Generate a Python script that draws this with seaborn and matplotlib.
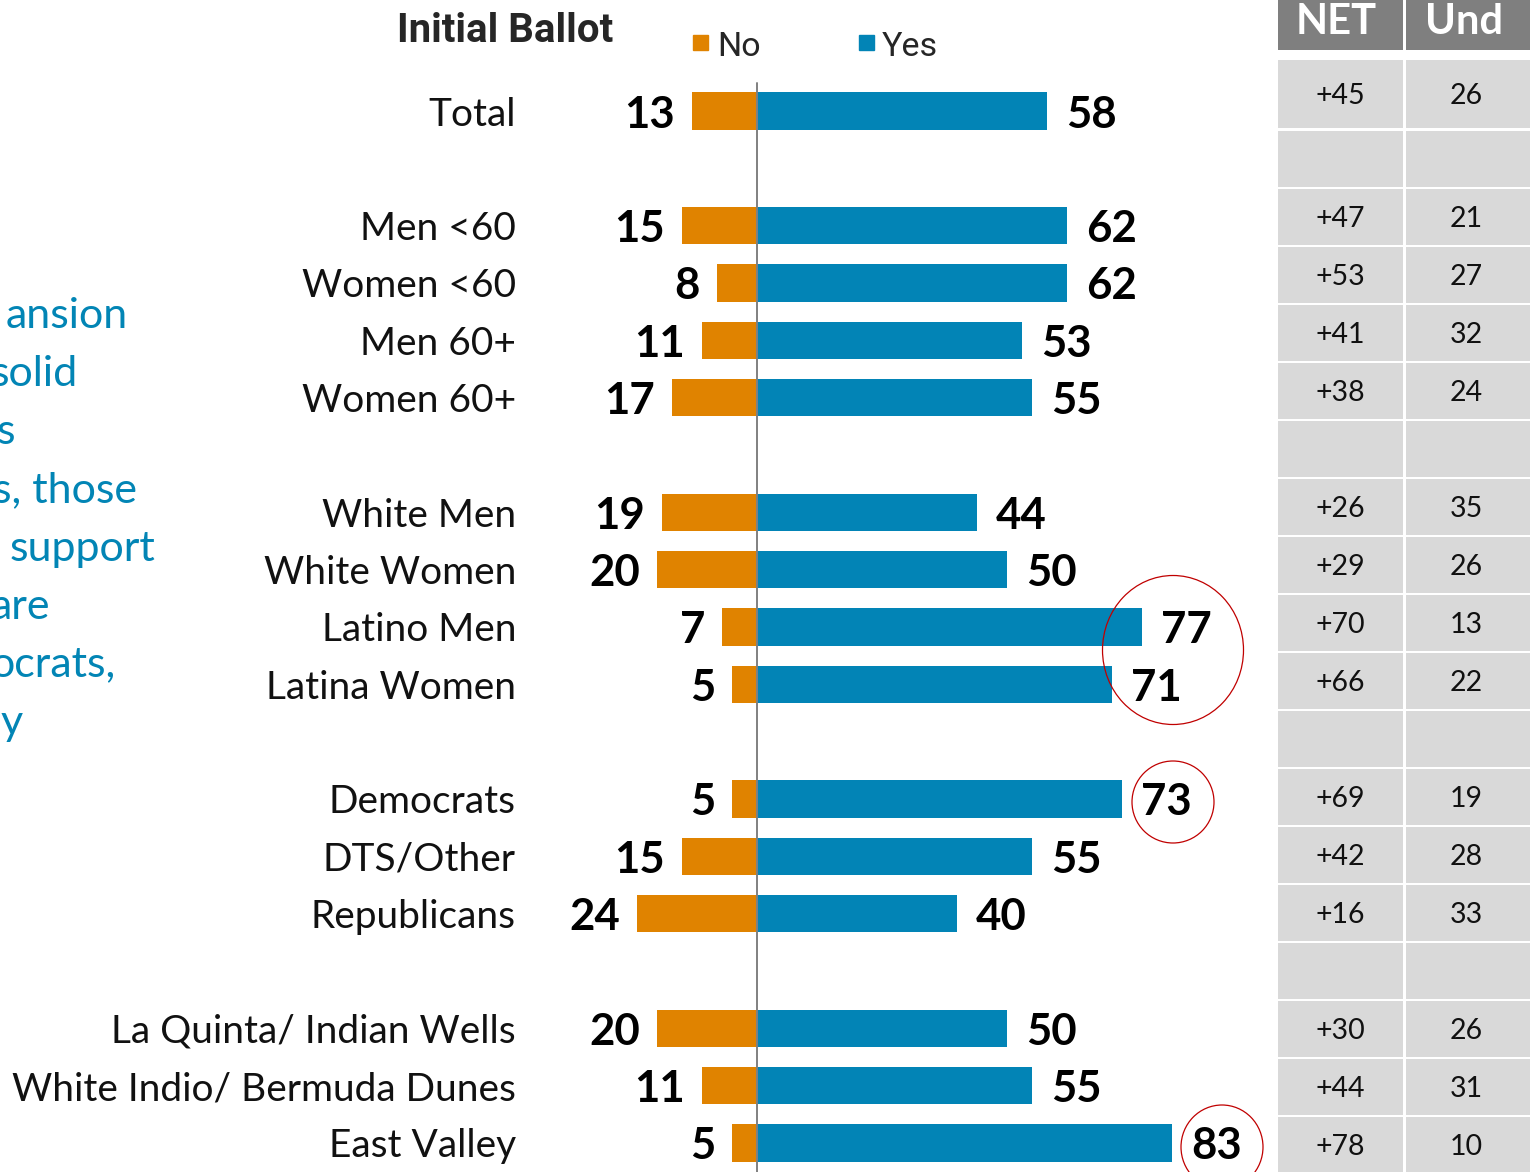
import numpy as np
import pandas as pd
import matplotlib
matplotlib.use("Agg")
import matplotlib.pyplot as plt
import seaborn as sns
from matplotlib.patches import Rectangle, Ellipse

# ---------------- data ----------------
categories = ["Total",
              "Men <60", "Women <60", "Men 60+", "Women 60+",
              "White Men", "White Women", "Latino Men", "Latina Women",
              "Democrats", "DTS/Other", "Republicans",
              "La Quinta/ Indian Wells", "White Indio/ Bermuda Dunes", "East Valley"]
section_sizes = [1, 4, 4, 3, 3]
no_vals = [13, 15, 8, 11, 17, 19, 20, 7, 5, 5, 15, 24, 20, 11, 5]
yes_vals = [58, 62, 62, 53, 55, 44, 50, 77, 71, 73, 55, 40, 50, 55, 83]
net_vals = ["+45", "+47", "+53", "+41", "+38", "+26", "+29", "+70", "+66",
            "+69", "+42", "+16", "+30", "+44", "+78"]
und_vals = ["26", "21", "27", "32", "24", "35", "26", "13", "22",
            "19", "28", "33", "26", "31", "10"]
table_headers = ["NET", "Und"]
legend_labels = ["No", "Yes"]
title_text = "Initial Ballot"
side_text = ["ansion", "solid", "s", "s, those", "support", "are", "ocrats,", "y"]

# ---------------- layout ----------------
W, H = 1530, 1172
ORANGE = "#E08300"
BLUE = "#0284B6"
PX = 5.0       # pixels per percentage point
X0 = 757       # zero line, px
Y0 = 111       # first row centre, px
PY = 57.33     # row pitch, px

positions = []
p = 0
for n in section_sizes:
    positions.extend(range(p, p + n))
    p += n + 1
n_slots = p - 1

df = pd.DataFrame({"group": categories, "pos": positions,
                   "no": no_vals, "yes": yes_vals})
df["no_left"] = -df["no"]

sns.set_theme(style="white")
plt.rcParams["font.family"] = ["Lato", "DejaVu Sans"]

fig = plt.figure(figsize=(W / 100, H / 100), dpi=100)
ax = fig.add_axes([0, 0, 1, 1])

sns.barplot(data=df, x="yes", y="pos", orient="h", native_scale=True,
            color=BLUE, saturation=1, width=0.65, errorbar=None,
            linewidth=0, ax=ax)
sns.barplot(data=df, x="no_left", y="pos", orient="h", native_scale=True,
            color=ORANGE, saturation=1, width=0.65, errorbar=None,
            linewidth=0, ax=ax)

ax.set_xlim(-X0 / PX, (W - X0) / PX)
ax.set_ylim((H - Y0) / PY, -Y0 / PY)
ax.axis("off")

# zero line
ax.plot([0, 0], [(83 - Y0) / PY, (H - Y0) / PY], color="#808080", lw=1.4, zorder=5)

label_x = (516 - X0) / PX
for _, r in df.iterrows():
    ax.text(label_x, r["pos"], r["group"], ha="right", va="center_baseline",
            fontsize=28, color="#111111")
    ax.text(r["yes"] + 19 / PX, r["pos"], f"{r['yes']}", ha="left",
            va="center_baseline", fontsize=31.5, fontweight="bold", color="#000000")
    ax.text(-r["no"] - 17 / PX, r["pos"], f"{r['no']}", ha="right",
            va="center_baseline", fontsize=31.5, fontweight="bold", color="#000000")

def fx(x):
    return x / W

def fy(y):
    return 1 - y / H

# title and legend
fig.text(fx(505), fy(27), title_text, ha="center", va="center_baseline",
         fontsize=29, fontweight="bold", family=["Roboto", "DejaVu Sans"])
for (sx, tx), lab, col in zip([(693, 717), (859, 882)], legend_labels, [ORANGE, BLUE]):
    fig.patches.append(Rectangle((fx(sx), fy(50)), 15 / W, 15 / H,
                                 transform=fig.transFigure, color=col))
    fig.text(fx(tx), fy(43), lab, ha="left", va="center_baseline",
             fontsize=24.5, family=["Roboto", "DejaVu Sans"])

# side commentary text (clipped at the left edge), right-aligned to its visible end
side_right = [128, 78, 15, 137, 155, 50, 115, 23]
for i, (s, x) in enumerate(zip(side_text, side_right)):
    fig.text(fx(x), fy(313 + i * 58), s, ha="right", va="center_baseline",
             fontsize=31, color="#0285B5")

# circles
for (cx, cy, w, h) in [(1173, 650, 141, 149), (1173, 802, 82, 82), (1222, 1147, 82, 84)]:
    fig.patches.append(Ellipse((fx(cx), fy(cy)), w / W, h / H,
                               transform=fig.transFigure, fill=False,
                               edgecolor="#C00000", lw=0.9))

# ---------------- table ----------------
tx0 = 1278
tax = fig.add_axes([tx0 / W, 0, (W - tx0) / W, 1])
tax.set_xlim(0, W - tx0)
tax.set_ylim(H, 0)
tax.axis("off")
cols = [(0, 125), (128, 252)]
for (c0, c1), hd in zip(cols, table_headers):
    tax.add_patch(Rectangle((c0, 0), c1 - c0, 50, color="#7F7F7F", lw=0))
    tax.text((c0 + c1) / 2 - 4, 19, hd, ha="center", va="center_baseline",
             fontsize=30, fontweight="bold", color="white")

slot_net = {pp: v for pp, v in zip(positions, net_vals)}
slot_und = {pp: v for pp, v in zip(positions, und_vals)}
for k in range(n_slots + 1):
    if k == 0:
        top, h = 60, 68
    else:
        top, h = 131 + (k - 1) * 58, 55.5
    for (c0, c1), vals in zip(cols, [slot_net, slot_und]):
        tax.add_patch(Rectangle((c0, top), c1 - c0, h, color="#D9D9D9", lw=0))
        if k in vals:
            tax.text((c0 + c1) / 2 + (0 if c0 == 0 else -2), top + h / 2, vals[k],
                     ha="center", va="center_baseline", fontsize=20.5, color="#111111")

fig.savefig("out.png", dpi=100)
